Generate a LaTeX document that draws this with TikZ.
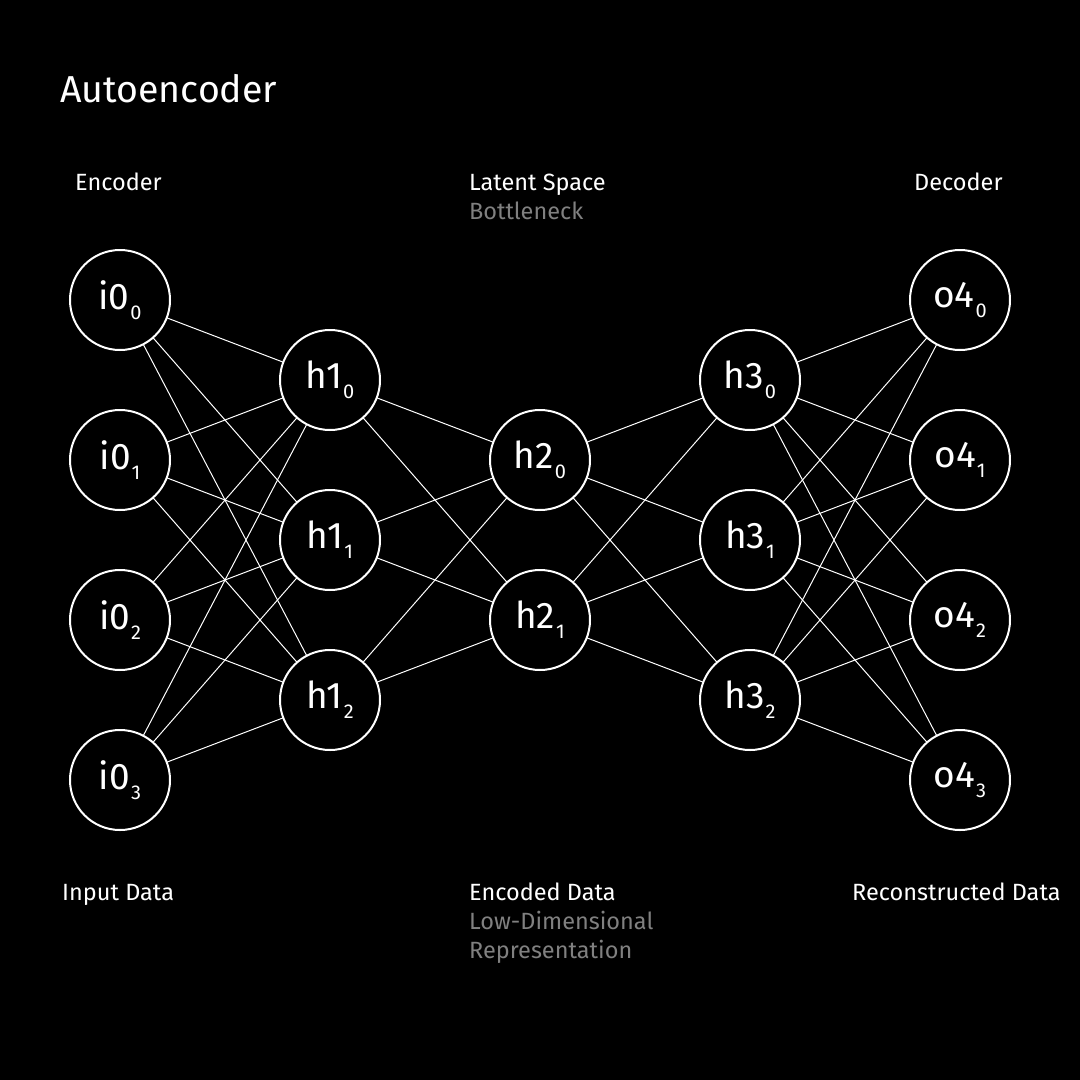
\documentclass[tikz,border=0pt]{standalone}
\usepackage{fontspec}
\setmainfont{Fira Sans}
\usepackage{tikz}
\usetikzlibrary{positioning}
\definecolor{grey}{RGB}{128,128,128}

\newcommand{\unitlbl}[2]{#1\kern1pt\raisebox{-10pt}{\fontsize{20}{20}\selectfont #2}}

\begin{document}
\begin{tikzpicture}[x=1pt,y=-1pt,node distance=60pt]
\tikzset{VertexStyle/.style = {shape          = circle,
                                 draw           = white,
                                 line width     = 2pt,
                                 inner sep      = 0pt,
                                 outer sep      = 0pt,
                                 minimum size   = 100pt,
                                 text           = white,
                                 font           = \fontsize{37}{37}\selectfont}}
\tikzset{EdgeStyle/.style = {white, line width = 1pt}}
\tikzset{LabelStyle/.style = {anchor = base west, inner sep = 0pt,
                                text = white, font = \fontsize{23.5}{23.5}\selectfont}}
\tikzset{NoteStyle/.style = {LabelStyle, text = grey}}
     \fill[black](0,0) rectangle (1080,1080);
     \useasboundingbox (0,0) rectangle (1080,1080);
     % input layer
     \node[VertexStyle](I0) at (120,300){\unitlbl{i0}{0}};
     \node[VertexStyle,below=of I0](I1){\unitlbl{i0}{1}};
     \node[VertexStyle,below=of I1](I2){\unitlbl{i0}{2}};
     \node[VertexStyle,below=of I2](I3){\unitlbl{i0}{3}};
     % encoder hidden layer
     \node[VertexStyle](H10) at (330,380){\unitlbl{h1}{0}};
     \node[VertexStyle,below=of H10](H11){\unitlbl{h1}{1}};
     \node[VertexStyle,below=of H11](H12){\unitlbl{h1}{2}};
     % bottleneck
     \node[VertexStyle](H20) at (540,460){\unitlbl{h2}{0}};
     \node[VertexStyle,below=of H20](H21){\unitlbl{h2}{1}};
     % decoder hidden layer
     \node[VertexStyle](H30) at (750,380){\unitlbl{h3}{0}};
     \node[VertexStyle,below=of H30](H31){\unitlbl{h3}{1}};
     \node[VertexStyle,below=of H31](H32){\unitlbl{h3}{2}};
     % output layer
     \node[VertexStyle](O0) at (960,300){\unitlbl{o4}{0}};
     \node[VertexStyle,below=of O0](O1){\unitlbl{o4}{1}};
     \node[VertexStyle,below=of O1](O2){\unitlbl{o4}{2}};
     \node[VertexStyle,below=of O2](O3){\unitlbl{o4}{3}};
     % weights
     \foreach \a in {0,...,3}
       \foreach \b in {0,1,2}{
         \draw[EdgeStyle](I\a) to (H1\b);
         \draw[EdgeStyle](H3\b) to (O\a);
       }
     \foreach \a in {0,1,2}
       \foreach \b in {0,1}{
         \draw[EdgeStyle](H1\a) to (H2\b);
         \draw[EdgeStyle](H2\b) to (H3\a);
       }
     % captions
     \node[LabelStyle,font=\fontsize{37.5}{37.5}\selectfont](TITLE) at (60,102){Autoencoder};
     \node[LabelStyle](ENC) at (75,190){Encoder};
     \node[LabelStyle](LAT) at (469,190){Latent Space};
     \node[NoteStyle](BOT) at (469,219){Bottleneck};
     \node[LabelStyle](DEC) at (914,190){Decoder};
     \node[LabelStyle](IN) at (62,900){Input Data};
     \node[LabelStyle](CODE) at (469,900){Encoded Data};
     \node[NoteStyle](LOW) at (469,929){Low-Dimensional};
     \node[NoteStyle](REP) at (469,958){Representation};
     \node[LabelStyle](OUT) at (852,900){Reconstructed Data};
  \end{tikzpicture}
\end{document}
